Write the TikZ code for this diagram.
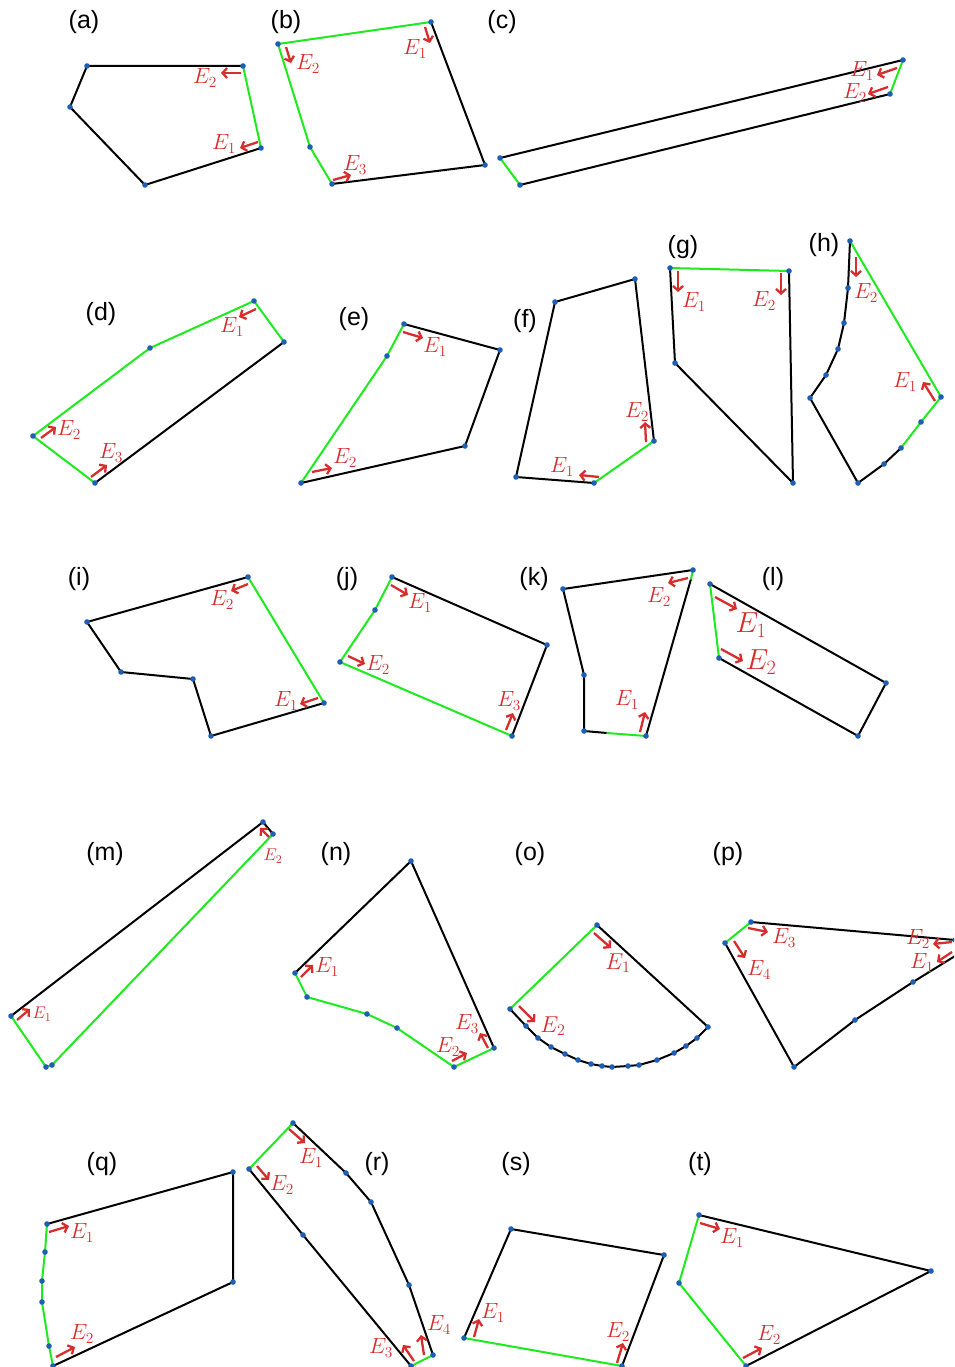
\RequirePackage{fix-cm}
\documentclass[tikz,border=0pt]{standalone}
\usepackage{fontspec}
\setsansfont{Liberation Sans}
\usetikzlibrary{arrows.meta}
\definecolor{ared}{RGB}{214,45,45}
\definecolor{lgreen}{RGB}{30,235,30}
\definecolor{vblue}{RGB}{30,95,180}
\tikzset{
  blk/.style={line width=2pt, black, line join=round, line cap=round},
  grn/.style={line width=2pt, lgreen, line join=round, line cap=round},
  ar/.style={line width=2.3pt, ared, -{Straight Barb[length=4.5pt,width=10pt]}},
  el/.style={text=ared, font=\fontsize{22}{26}\selectfont, inner sep=0pt},
  elbig/.style={el, font=\fontsize{29}{33}\selectfont},
  elsmall/.style={el, font=\fontsize{17}{20}\selectfont},
  elmid/.style={el, font=\fontsize{23}{27}\selectfont},
  pl/.style={font=\sffamily\fontsize{25}{29}\selectfont, inner sep=0pt},
}
\newcommand{\vertdots}[1]{\foreach \p in {#1} \fill[vblue] \p circle[radius=2.8pt];}
\begin{document}
\begin{tikzpicture}[x=1pt,y=-1pt]
\useasboundingbox (0,0) rectangle (954,1367);
\clip (0,0) rectangle (954,1367);
\fill[white] (0,0) rectangle (954,1367);

% ---------- panel labels
\node[pl] (la) at (84,22) {(a)};
\node[pl] (lb) at (286,22) {(b)};
\node[pl] (lc) at (502,22) {(c)};
\node[pl] (ld) at (101,314) {(d)};
\node[pl] (le) at (354,319) {(e)};
\node[pl] (lf) at (525,321) {(f)};
\node[pl] (lg) at (683,247) {(g)};
\node[pl] (lh) at (824,245) {(h)};
\node[pl] (li) at (79,579) {(i)};
\node[pl] (lj) at (347,579) {(j)};
\node[pl] (lk) at (534,579) {(k)};
\node[pl] (ll) at (773,579) {(l)};
\node[pl] (lm) at (105,854) {(m)};
\node[pl] (ln) at (336,854) {(n)};
\node[pl] (lo) at (530,854) {(o)};
\node[pl] (lp) at (728,854) {(p)};
\node[pl] (lq) at (102,1164) {(q)};
\node[pl] (lr) at (377,1164) {(r)};
\node[pl] (ls) at (516,1164) {(s)};
\node[pl] (lt) at (700,1164) {(t)};

% ---------- (a)
\draw[blk] (243,66)--(87,66)--(70,107)--(145,185)--(261,148);
\draw[grn] (243,66)--(261,148);
\vertdots{(87,66),(243,66),(261,148),(145,185),(70,107)}
\draw[ar] (241,73)--(221,73);
\draw[ar] (258,142)--(240,148);
\node[el] (aE2) at (205,78) {$E_2$};
\node[el] (aE1) at (224,144) {$E_1$};

% ---------- (b)
\draw[grn] (431,22)--(278,44)--(310,147)--(332,184);
\draw[blk] (431,22)--(485,165)--(332,184);
\vertdots{(278,44),(431,22),(485,165),(332,184),(310,147)}
\draw[ar] (425,27)--(430,43);
\draw[ar] (286,47)--(291,63);
\draw[ar] (333,180)--(351,175);
\node[el] (bE1) at (415,49) {$E_1$};
\node[el] (bE2) at (308,64) {$E_2$};
\node[el] (bE3) at (355,165) {$E_3$};

% ---------- (c)
\draw[blk] (500,158)--(903,60);
\draw[blk] (520,185)--(890,94);
\draw[grn] (500,158)--(520,185);
\draw[grn] (903,60)--(890,94);
\vertdots{(500,158),(903,60),(890,94),(520,185)}
\draw[ar] (897,68)--(877,75);
\draw[ar] (888,87)--(868,94);
\node[el] (cE1) at (862,71) {$E_1$};
\node[el] (cE2) at (855,93) {$E_2$};

% ---------- (d)
\draw[grn] (284,342)--(254,301)--(150,348)--(33,436)--(95,483);
\draw[blk] (95,483)--(284,342);
\vertdots{(254,301),(284,342),(95,483),(33,436),(150,348)}
\draw[ar] (256,309)--(239,317);
\draw[ar] (41,438)--(56,427);
\draw[ar] (91,477)--(107,465);
\node[el] (dE1) at (232,327) {$E_1$};
\node[el] (dE2) at (69,430) {$E_2$};
\node[el] (dE3) at (111,453) {$E_3$};

% ---------- (e)
\draw[grn] (404,324)--(387,356)--(301,483);
\draw[blk] (404,324)--(500,350)--(465,446)--(301,483);
\vertdots{(404,324),(500,350),(465,446),(301,483),(387,356)}
\draw[ar] (403,332)--(423,338);
\draw[ar] (312,472)--(332,468);
\node[el] (eE1) at (435,347) {$E_1$};
\node[el] (eE2) at (345,458) {$E_2$};

% ---------- (f)
\draw[blk] (654,441)--(635,279)--(555,302)--(516,477)--(594,483);
\draw[grn] (594,483)--(654,441);
\vertdots{(555,302),(635,279),(654,441),(594,483),(516,477)}
\draw[ar] (599,477)--(579,475);
\draw[ar] (646,442)--(645,422);
\node[el] (fE1) at (562,467) {$E_1$};
\node[el] (fE2) at (637,412) {$E_2$};

% ---------- (g)
\draw[grn] (670,268)--(789,271);
\draw[blk] (789,271)--(793,483)--(675,363)--(670,268);
\vertdots{(670,268),(789,271),(793,483),(675,363)}
\draw[ar] (678,271)--(678,292);
\draw[ar] (781,273)--(781,295);
\node[el] (gE1) at (694,302) {$E_1$};
\node[el] (gE2) at (764,301) {$E_2$};

% ---------- (h)
\draw[grn] (901,448)--(921,422)--(941,397)--(850,241);
\draw[blk] (850,241)--(848,288)--(844,323)--(838,349)--(826,375)--(810,398)--(858,483)--(884,464)--(901,448);
\vertdots{(850,241),(941,397),(921,422),(901,448),(884,464),(858,483),(810,398),(826,375),(838,349),(844,323),(848,288)}
\draw[ar] (856,257)--(856,277);
\draw[ar] (935,401)--(923,382);
\node[el] (hE2) at (866,293) {$E_2$};
\node[el] (hE1) at (905,382) {$E_1$};

% ---------- (i)
\draw[grn] (248,577)--(324,703);
\draw[blk] (324,703)--(211,736)--(193,679)--(121,672)--(87,622)--(248,577);
\vertdots{(248,577),(324,703),(211,736),(193,679),(121,672),(87,622)}
\draw[ar] (248,584)--(231,591);
\draw[ar] (318,698)--(300,704);
\node[el] (iE2) at (222,600) {$E_2$};
\node[el] (iE1) at (286,701) {$E_1$};

% ---------- (j)
\draw[grn] (392,577)--(375,610)--(340,662)--(512,736);
\draw[blk] (392,577)--(547,645)--(512,736);
\vertdots{(392,577),(547,645),(512,736),(340,662),(375,610)}
\draw[ar] (391,585)--(408,595);
\draw[ar] (348,656)--(365,664);
\draw[ar] (506,730)--(513,713);
\node[el] (jE1) at (420,603) {$E_1$};
\node[el] (jE2) at (378,665) {$E_2$};
\node[el] (jE3) at (509,701) {$E_3$};

% ---------- (k)
\draw[blk] (563,589)--(693,570);
\draw[blk] (691,579)--(646,736);
\draw[blk] (607,733)--(584,731)--(584,675)--(563,589);
\draw[grn] (693,570)--(691,579);
\draw[grn] (607,733)--(646,736);
\vertdots{(563,589),(693,570),(646,736),(584,731),(584,675)}
\draw[ar] (688,578)--(668,583);
\draw[ar] (640,732)--(645,712);
\node[el] (kE2) at (659,597) {$E_2$};
\node[el] (kE1) at (627,700) {$E_1$};

% ---------- (l)
\draw[grn] (710,584)--(719,658);
\draw[blk] (710,584)--(886,683)--(858,736)--(719,658);
\vertdots{(710,584),(886,683),(858,736),(719,658)}
\draw[ar] (715,597)--(737,609);
\draw[ar] (721,649)--(743,661);
\node[elbig] (lE1) at (751,625) {$E_1$};
\node[elbig] (lE2) at (761,662) {$E_2$};

% ---------- (m)
\draw[blk] (11,1016)--(263,822)--(273,834);
\draw[grn] (273,834)--(52,1065)--(46,1067)--(11,1016);
\vertdots{(263,822),(273,834),(52,1065),(46,1067),(11,1016)}
\draw[ar] (269,837)--(260,828);
\draw[ar] (17,1020)--(30,1009);
\node[elsmall] (mE2) at (273,856) {$E_2$};
\node[elsmall] (mE1) at (42,1014) {$E_1$};

% ---------- (n)
\draw[blk] (295,973)--(411,861)--(494,1048);
\draw[grn] (494,1048)--(454,1067)--(397,1028)--(367,1014)--(307,997)--(295,973);
\vertdots{(411,861),(494,1048),(454,1067),(397,1028),(367,1014),(307,997),(295,973)}
\draw[ar] (301,977)--(313,965);
\draw[ar] (452,1061)--(467,1053);
\draw[ar] (488,1048)--(480,1033);
\node[el] (nE1) at (327,967) {$E_1$};
\node[el] (nE2) at (448,1047) {$E_2$};
\node[el] (nE3) at (467,1024) {$E_3$};

% ---------- (o)
\draw[grn] (510,1009)--(597,925);
\draw[blk] (597,925)--(708,1027)--(697,1038)--(686,1046)--(674,1053)--(657,1060)--(639,1065)--(628,1066)--(612,1067)--(602,1066)--(591,1064)--(578,1060)--(565,1054)--(551,1047)--(538,1038)--(526,1026)--(510,1009);
\vertdots{(597,925),(708,1027),(697,1038),(686,1046),(674,1053),(657,1060),(639,1065),(628,1066),(612,1067),(602,1066),(591,1064),(578,1060),(565,1054),(551,1047),(538,1038),(526,1026),(510,1009)}
\draw[ar] (594,933)--(611,948);
\draw[ar] (519,1006)--(535,1022);
\node[elmid] (oE1) at (618,963) {$E_1$};
\node[elmid] (oE2) at (553,1026) {$E_2$};

% ---------- (p)
\draw[grn] (751,922)--(725,943);
\draw[blk] (725,943)--(794,1067)--(855,1020)--(913,982)--(968,948)--(955,940)--(751,922);
\vertdots{(751,922),(725,943),(794,1067),(855,1020),(913,982),(955,940)}
\draw[ar] (748,928)--(768,932);
\draw[ar] (734,941)--(745,958);
\draw[ar] (952,942)--(933,944);
\draw[ar] (952,952)--(937,962);
\node[el] (pE3) at (784,938) {$E_3$};
\node[el] (pE4) at (759,970) {$E_4$};
\node[el] (pE2) at (918,939) {$E_2$};
\node[el] (pE1) at (922,963) {$E_1$};

% ---------- (q)
\draw[blk] (47,1224)--(233,1172)--(233,1282)--(53,1366);
\draw[grn] (53,1366)--(49,1346)--(42,1302)--(42,1281)--(45,1252)--(47,1224);
\vertdots{(47,1224),(233,1172),(233,1282),(53,1366),(49,1346),(42,1302),(42,1281),(45,1252)}
\draw[ar] (49,1232)--(69,1226);
\draw[ar] (56,1357)--(75,1347);
\node[el] (qE1) at (82,1233) {$E_1$};
\node[el] (qE2) at (82,1334) {$E_2$};

% ---------- (r)
\draw[grn] (249,1169)--(293,1123);
\draw[blk] (293,1123)--(346,1173)--(371,1202)--(409,1285)--(433,1355);
\draw[grn] (433,1355)--(411,1366);
\draw[blk] (411,1366)--(303,1235)--(249,1169);
\vertdots{(293,1123),(346,1173),(371,1202),(409,1285),(433,1355),(411,1366),(303,1235),(249,1169)}
\draw[ar] (289,1129)--(305,1143);
\draw[ar] (257,1166)--(269,1180);
\draw[ar] (414,1361)--(403,1345);
\draw[ar] (424,1355)--(421,1335);
\node[el] (rE1) at (311,1158) {$E_1$};
\node[el] (rE2) at (282,1185) {$E_2$};
\node[el] (rE3) at (381,1348) {$E_3$};
\node[el] (rE4) at (439,1325) {$E_4$};

% ---------- (s)
\draw[blk] (464,1338)--(511,1229)--(664,1255)--(622,1366);
\draw[grn] (622,1366)--(464,1338);
\vertdots{(511,1229),(664,1255),(622,1366),(464,1338)}
\draw[ar] (474,1337)--(479,1319);
\draw[ar] (617,1363)--(623,1343);
\node[el] (sE1) at (493,1313) {$E_1$};
\node[el] (sE2) at (618,1332) {$E_2$};

% ---------- (t)
\draw[grn] (699,1215)--(679,1283)--(746,1366);
\draw[blk] (746,1366)--(931,1271)--(699,1215);
\vertdots{(699,1215),(931,1271),(746,1366),(679,1283)}
\draw[ar] (700,1223)--(720,1229);
\draw[ar] (743,1358)--(762,1348);
\node[el] (tE1) at (732,1238) {$E_1$};
\node[el] (tE2) at (769,1335) {$E_2$};
\end{tikzpicture}
\end{document}
